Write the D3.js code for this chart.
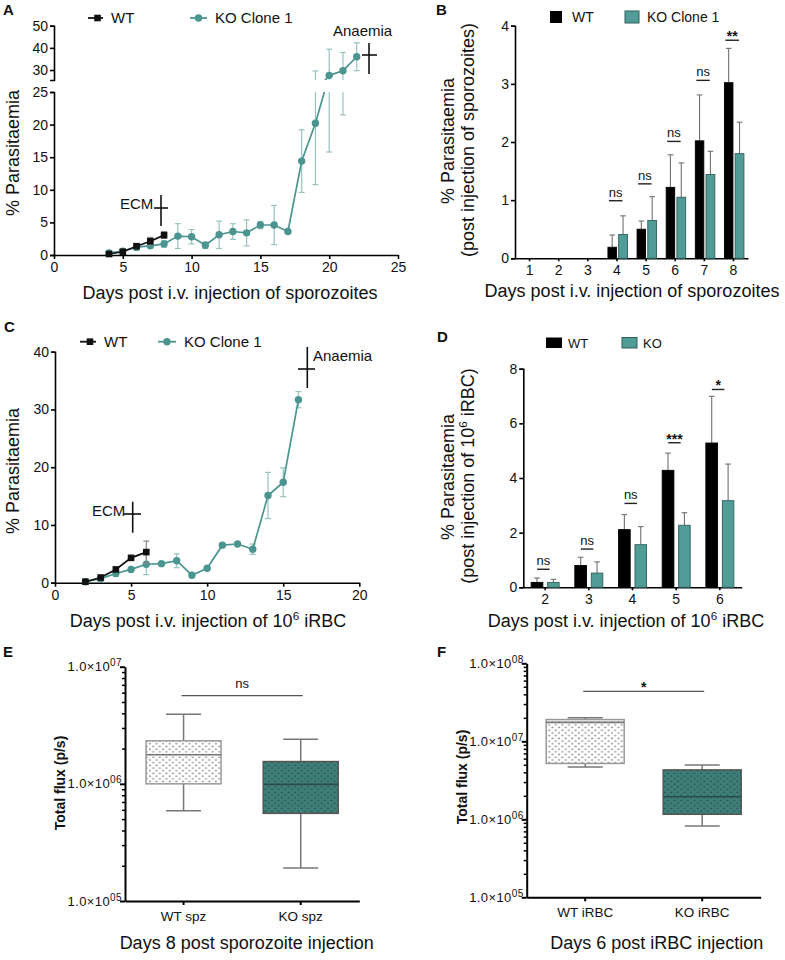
<!DOCTYPE html>
<html><head><meta charset="utf-8">
<script src="https://cdn.jsdelivr.net/npm/d3@7"></script>
<style>
body{margin:0;background:#fff}
text{font-family:"Liberation Sans",Arial,Helvetica,sans-serif;fill:#111}
</style>
</head><body>
<svg id="fig" width="785" height="960" xmlns="http://www.w3.org/2000/svg"></svg>
<script>
// ---------------- DATA ----------------
// Panel A: parasitaemia after sporozoite injection
const daysA_KO = [4,5,6,7,8,9,10,11,12,13,14,15,16,17,18,19,20,21,22];
const koA      = [0.3,0.6,1.2,1.4,1.7,2.9,2.8,1.5,3.1,3.6,3.4,4.6,4.6,3.6,14.4,20.2,27.6,29.7,36.0];
const koA_err  = [0.2,0.2,0.5,0.3,0.5,1.9,1.1,0.5,2.1,1.2,2.0,0.55,3.0,0.2,4.8,9.4,11.8,8.2,6.3];
const daysA_WT = [4,5,6,7,8];
const wtA      = [0.15,0.5,1.35,2.1,3.05];
const wtA_err  = [0.1,0.15,0.3,0.6,0.5];
const ticksA_x = [0,5,10,15,20,25];
const ticksA_yLow = [0,5,10,15,20,25];
const ticksA_yHigh = [30,40,50];

// Panel B: bar chart, sporozoites
const daysB   = ["1","2","3","4","5","6","7","8"];
const wtB     = [0,0,0,0.19,0.5,1.22,2.02,3.02];
const koB     = [0,0,0,0.41,0.65,1.05,1.44,1.80];
const wtB_err = [0,0,0,0.21,0.14,0.56,0.79,0.59];
const koB_err = [0,0,0,0.32,0.41,0.59,0.40,0.54];
const sigB    = ["","","","ns","ns","ns","ns","**"];
const sigB_y  = [0,0,0,0.99,1.28,2.01,3.06,3.75];
const ticksB_y = [0,1,2,3,4];

// Panel C: parasitaemia after iRBC injection
const daysC_KO = [2,3,4,5,6,7,8,9,10,11,12,13,14,15,16];
const koC      = [0.17,0.7,1.6,2.3,3.2,3.3,3.8,1.3,2.5,6.5,6.7,5.8,15.1,17.4,31.7];
const koC_err  = [0.1,0.2,0.5,0.2,1.8,0.2,1.2,0.2,0.3,0.2,0.2,0.9,4.0,2.5,1.4];
const daysC_WT = [2,3,4,5,6];
const wtC      = [0.17,0.9,2.3,4.3,5.3];
const wtC_err  = [0.1,0.2,0.3,0.4,1.9];
const ticksC_x = [0,5,10,15,20];
const ticksC_y = [0,10,20,30,40];

// Panel D: bar chart, iRBC
const daysD   = ["2","3","4","5","6"];
const wtD     = [0.18,0.8,2.11,4.28,5.28];
const koD     = [0.18,0.52,1.56,2.27,3.17];
const wtD_err = [0.16,0.3,0.55,0.63,1.71];
const koD_err = [0.11,0.41,0.66,0.46,1.34];
const sigD    = ["ns","ns","ns","***","*"];
const sigD_y  = [0.66,1.40,3.07,5.29,7.24];
const ticksD_y = [0,2,4,6,8];

// Panel E: total flux, day 8 post sporozoite
const groupsE = ["WT spz","KO spz"];
const minE = [5.9e5,1.91e5];
const q1E  = [1.0e6,5.6e5];
const medE = [1.77e6,0.99e6];
const q3E  = [2.33e6,1.55e6];
const maxE = [3.93e6,2.4e6];
const sigE = "ns", sigE_y = 5.66e6;
const majorE = [1e5,1e6,1e7];
const majorE_lab = ["05","06","07"];

// Panel F: total flux, day 6 post iRBC
const groupsF = ["WT iRBC","KO iRBC"];
const minF = [4.7e6,8.2e5];
const q1F  = [5.2e6,1.16e6];
const medF = [1.75e7,1.95e6];
const q3F  = [1.9e7,4.3e6];
const maxF = [2.0e7,4.97e6];
const sigF = "*", sigF_y = 4.37e7;
const majorF = [1e5,1e6,1e7,1e8];
const majorF_lab = ["05","06","07","08"];

// ---------------- STYLE ----------------
const TEAL = "#4a9590", TEAL_ERR = "#98c3bf", TEAL_BAR = "#519c96", TEAL_EDGE = "#2d605c";
const ERR_GREY = "#707070";
const TICK_FS = 14, TITLE_FS = 18, LEG_FS = 15;
const svg = d3.select("#fig");
const defs = svg.append("defs");

function styleAxis(g, fs, w) {
  g.attr("font-size", fs).attr("font-family", null);
  g.select(".domain").attr("stroke", "#000").attr("stroke-width", w || 1.6);
  g.selectAll(".tick line").attr("stroke", "#000").attr("stroke-width", w || 1.6);
  g.selectAll(".tick text").attr("fill", "#111");
}
function text(g, x, y, s, o) {
  o = o || {};
  const t = g.append("text").attr("x", x).attr("y", y).text(s)
    .attr("font-size", o.fs || 14).attr("text-anchor", o.anchor || "start");
  if (o.bold) t.attr("font-weight", "bold");
  if (o.rot) t.attr("transform", `rotate(-90,${x},${y})`);
  return t;
}
function cross(g, cx, cy, top, bot, l, r) {
  g.append("line").attr("x1", cx).attr("x2", cx).attr("y1", top).attr("y2", bot).attr("stroke", "#111").attr("stroke-width", 1.6);
  g.append("line").attr("x1", l).attr("x2", r).attr("y1", cy).attr("y2", cy).attr("stroke", "#111").attr("stroke-width", 1.6);
}
function series(g, x, y, days, vals, errs, color, errColor, marker, clip) {
  const s = g.append("g");
  if (clip) s.attr("clip-path", `url(#${clip})`);
  const d = days.map((v, i) => ({x: v, y: vals[i], e: errs[i]}));
  const eb = s.append("g").attr("stroke", errColor).attr("stroke-width", 1.2);
  d.forEach(p => {
    eb.append("line").attr("x1", x(p.x)).attr("x2", x(p.x)).attr("y1", y(p.y - p.e)).attr("y2", y(p.y + p.e));
    [p.y - p.e, p.y + p.e].forEach(v => eb.append("line").attr("x1", x(p.x) - 3).attr("x2", x(p.x) + 3).attr("y1", y(v)).attr("y2", y(v)));
  });
  s.append("path").datum(d).attr("fill", "none").attr("stroke", color).attr("stroke-width", 1.7)
    .attr("d", d3.line().x(p => x(p.x)).y(p => y(p.y)));
  if (marker === "circle") {
    s.selectAll("circle").data(d).join("circle").attr("cx", p => x(p.x)).attr("cy", p => y(p.y)).attr("r", 3.7).attr("fill", color);
  } else {
    s.selectAll("rect.m").data(d).join("rect").attr("class", "m").attr("x", p => x(p.x) - 3.3).attr("y", p => y(p.y) - 3.3)
      .attr("width", 6.6).attr("height", 6.6).attr("fill", color);
  }
}
function lineLegend(g, x1, x2, y, marker, color, label, fs) {
  g.append("line").attr("x1", x1).attr("x2", x2).attr("y1", y).attr("y2", y).attr("stroke", color).attr("stroke-width", 1.8);
  const cx = (x1 + x2) / 2 + (marker === "square" ? 2 : 0);
  if (marker === "circle") g.append("circle").attr("cx", cx).attr("cy", y).attr("r", 3.7).attr("fill", color);
  else g.append("rect").attr("x", cx - 3.3).attr("y", y - 3.3).attr("width", 6.6).attr("height", 6.6).attr("fill", color);
  text(g, x2 + 8, y + 5, label, {fs: fs});
}
function supText(g, x, y, pre, sup, post, o) {
  const t = g.append("text").attr("x", x).attr("y", y).attr("font-size", o.fs).attr("text-anchor", o.anchor || "middle");
  if (o.rot) t.attr("transform", `rotate(-90,${x},${y})`);
  t.append("tspan").text(pre);
  t.append("tspan").attr("dy", -o.fs * 0.38).attr("font-size", o.fs * 0.65).text(sup);
  t.append("tspan").attr("dy", o.fs * 0.38).text(post);
  return t;
}

// ---------------- PANEL A ----------------
(function () {
  const g = svg.append("g");
  const x = d3.scaleLinear().domain([0, 25]).range([54, 398]);
  const yLo = d3.scaleLinear().domain([0, 25]).range([255, 92]);
  const yHi = d3.scaleLinear().domain([25.5, 50]).range([80, 25.7]);
  defs.append("clipPath").attr("id", "clipALo").append("rect").attr("x", 40).attr("y", 92).attr("width", 380).attr("height", 175);
  defs.append("clipPath").attr("id", "clipAHi").append("rect").attr("x", 40).attr("y", 15).attr("width", 380).attr("height", 65);

  const ax = g.append("g").attr("transform", "translate(0,255)").call(d3.axisBottom(x).tickValues(ticksA_x).tickSize(4).tickSizeOuter(0).tickPadding(3).tickFormat(d3.format("d")));
  styleAxis(ax, TICK_FS);
  const ayl = g.append("g").attr("transform", "translate(54,0)").call(d3.axisLeft(yLo).tickValues(ticksA_yLow).tickSize(4).tickPadding(2).tickFormat(d3.format("d")));
  styleAxis(ayl, TICK_FS);
  const ayh = g.append("g").attr("transform", "translate(54,0)").call(d3.axisLeft(yHi).tickValues(ticksA_yHigh).tickSize(4).tickPadding(2).tickFormat(d3.format("d")));
  styleAxis(ayh, TICK_FS);

  [["clipALo", yLo], ["clipAHi", yHi]].forEach(([c, y]) => {
    series(g, x, y, daysA_KO, koA, koA_err, TEAL, TEAL_ERR, "circle", c);
    series(g, x, y, daysA_WT, wtA, wtA_err, "#111", "#888", "square", c);
  });

  lineLegend(g, 88, 103, 18, "square", "#111", "WT", LEG_FS);
  lineLegend(g, 190, 207, 18, "circle", TEAL, "KO Clone 1", LEG_FS);

  text(g, 333, 36, "Anaemia", {fs: LEG_FS});
  cross(g, 369, 55, 43, 74, 362, 377);
  text(g, 120, 209, "ECM", {fs: LEG_FS});
  cross(g, 161, 208, 195, 226, 154, 168);

  text(g, 230, 299, "Days post i.v. injection of sporozoites", {fs: TITLE_FS, anchor: "middle"});
  text(g, 19, 153, "% Parasitaemia", {fs: TITLE_FS, anchor: "middle", rot: true});
  text(g, 3, 15, "A", {fs: 15, bold: true});
})();

// ---------------- BAR PANELS ----------------
function barPanel(c) {
  const g = svg.append("g");
  const x = d3.scaleBand().domain(c.cats).range([c.x0, c.x1]);
  const y = d3.scaleLinear().domain([0, c.yMax]).range([c.y0, c.y1]);
  const ax = g.append("g").attr("transform", `translate(0,${c.y0})`).call(d3.axisBottom(x).tickSize(3).tickSizeOuter(0).tickPadding(4));
  styleAxis(ax, TICK_FS);
  const ay = g.append("g").attr("transform", `translate(${c.x0},0)`).call(d3.axisLeft(y).tickValues(c.yTicks).tickSize(4).tickPadding(2).tickFormat(d3.format("d")));
  styleAxis(ay, TICK_FS);
  const cen = k => x(k) + x.bandwidth() / 2;
  const data = c.cats.map((k, i) => ({k, wt: c.wt[i], ko: c.ko[i], we: c.wtErr[i], ke: c.koErr[i], s: c.sig[i], sy: c.sigY[i]}));
  const bars = g.append("g");
  data.forEach(d => {
    const cc = cen(d.k);
    [[d.wt, d.we, c.wtOff, "#000", "#000"], [d.ko, d.ke, c.koOff, TEAL_BAR, TEAL_EDGE]].forEach(([v, e, off, fill, st]) => {
      if (v <= 0) return;
      const xm = cc + (off[0] + off[1]) / 2;
      bars.append("line").attr("x1", xm).attr("x2", xm).attr("y1", y(v)).attr("y2", y(v + e)).attr("stroke", ERR_GREY).attr("stroke-width", 1.1);
      bars.append("line").attr("x1", xm - 2.8).attr("x2", xm + 2.8).attr("y1", y(v + e)).attr("y2", y(v + e)).attr("stroke", ERR_GREY).attr("stroke-width", 1.1);
      bars.append("rect").attr("x", cc + off[0]).attr("width", off[1] - off[0]).attr("y", y(v)).attr("height", y(0) - y(v))
        .attr("fill", fill).attr("stroke", st).attr("stroke-width", 0.9);
    });
    if (d.s) {
      g.append("line").attr("x1", cc + c.sigOff[0]).attr("x2", cc + c.sigOff[1]).attr("y1", y(d.sy)).attr("y2", y(d.sy)).attr("stroke", "#222").attr("stroke-width", 1.4);
      const isStar = d.s.indexOf("*") >= 0;
      text(g, cc + (c.sigOff[0] + c.sigOff[1]) / 2, y(d.sy) - (isStar ? -1 : 4), d.s, {fs: isStar ? 14 : 13, anchor: "middle", bold: isStar});
    }
  });
  return {g, x, y};
}

// Panel B
(function () {
  const p = barPanel({cats: daysB, wt: wtB, ko: koB, wtErr: wtB_err, koErr: koB_err, sig: sigB, sigY: sigB_y,
    x0: 515, x1: 748, y0: 258.3, y1: 25.7, yMax: 4, yTicks: ticksB_y, wtOff: [-9, -0.5], koOff: [1.7, 10.5], sigOff: [-8, 5.5]});
  const g = p.g;
  g.append("rect").attr("x", 550).attr("y", 11).attr("width", 12).attr("height", 12).attr("fill", "#000");
  text(g, 572, 22, "WT", {fs: 14});
  g.append("rect").attr("x", 625).attr("y", 11).attr("width", 14).attr("height", 12).attr("fill", TEAL_BAR).attr("stroke", TEAL_EDGE);
  text(g, 647, 22, "KO Clone 1", {fs: 14});
  text(g, 454, 141, "% Parasitaemia", {fs: TITLE_FS, anchor: "middle", rot: true});
  text(g, 474, 140, "(post injection of sporozoites)", {fs: TITLE_FS, anchor: "middle", rot: true});
  text(g, 632, 297, "Days post i.v. injection of sporozoites", {fs: TITLE_FS, anchor: "middle"});
  text(g, 436, 15, "B", {fs: 15, bold: true});
})();

// ---------------- PANEL C ----------------
(function () {
  const g = svg.append("g");
  const x = d3.scaleLinear().domain([0, 20]).range([55, 359.3]);
  const y = d3.scaleLinear().domain([0, 40]).range([582.7, 351.7]);
  const ax = g.append("g").attr("transform", "translate(0,582.7)").call(d3.axisBottom(x).tickValues(ticksC_x).tickSize(4).tickSizeOuter(0).tickPadding(3).tickFormat(d3.format("d")));
  styleAxis(ax, TICK_FS);
  const ay = g.append("g").attr("transform", "translate(55,0)").call(d3.axisLeft(y).tickValues(ticksC_y).tickSize(4).tickPadding(2).tickFormat(d3.format("d")));
  styleAxis(ay, TICK_FS);
  series(g, x, y, daysC_KO, koC, koC_err, TEAL, TEAL_ERR, "circle", null);
  series(g, x, y, daysC_WT, wtC, wtC_err, "#111", "#888", "square", null);
  lineLegend(g, 80, 96, 341.7, "square", "#111", "WT", LEG_FS);
  lineLegend(g, 158, 176, 341.7, "circle", TEAL, "KO Clone 1", LEG_FS);
  text(g, 313, 361, "Anaemia", {fs: LEG_FS});
  cross(g, 307.3, 369, 347, 388, 298, 315);
  text(g, 92, 516, "ECM", {fs: LEG_FS});
  cross(g, 132.7, 514, 501.7, 532.7, 124, 141);
  supText(g, 208, 627, "Days post i.v. injection of 10", "6", " iRBC", {fs: TITLE_FS});
  text(g, 19, 471, "% Parasitaemia", {fs: TITLE_FS, anchor: "middle", rot: true});
  text(g, 4, 332, "C", {fs: 15, bold: true});
})();

// Panel D
(function () {
  const p = barPanel({cats: daysD, wt: wtD, ko: koD, wtErr: wtD_err, koErr: koD_err, sig: sigD, sigY: sigD_y,
    x0: 523.3, x1: 741.7, y0: 587.3, y1: 368.7, yMax: 8, yTicks: ticksD_y, wtOff: [-14, -2.3], koOff: [2.5, 14], sigOff: [-8, 4.5]});
  const g = p.g;
  g.append("rect").attr("x", 546).attr("y", 337.5).attr("width", 16).attr("height", 10.5).attr("fill", "#000");
  text(g, 568, 347.5, "WT", {fs: 13});
  g.append("rect").attr("x", 622).attr("y", 337.5).attr("width", 15).attr("height", 10.5).attr("fill", TEAL_BAR).attr("stroke", TEAL_EDGE);
  text(g, 643, 347.5, "KO", {fs: 13});
  text(g, 454, 477, "% Parasitaemia", {fs: TITLE_FS, anchor: "middle", rot: true});
  supText(g, 474, 476, "(post injection of 10", "6", " iRBC)", {fs: TITLE_FS, rot: true});
  supText(g, 626, 627, "Days post i.v. injection of 10", "6", " iRBC", {fs: TITLE_FS});
  text(g, 437, 342, "D", {fs: 15, bold: true});
})();

// ---------------- BOX PANELS ----------------
function pattern(id, bg, dot) {
  const p = defs.append("pattern").attr("id", id).attr("patternUnits", "userSpaceOnUse").attr("width", 6.6).attr("height", 5.4);
  p.append("rect").attr("width", 6.6).attr("height", 5.4).attr("fill", bg);
  p.append("rect").attr("x", 0.4).attr("y", 0.6).attr("width", 2).attr("height", 1.3).attr("fill", dot);
  p.append("rect").attr("x", 3.7).attr("y", 3.3).attr("width", 2).attr("height", 1.3).attr("fill", dot);
}
pattern("patWT", "#ffffff", "#8a8a8a");
pattern("patKO", "#3f7f79", "#2a5551");

function boxPanel(c) {
  const g = svg.append("g");
  const x = d3.scaleBand().domain(c.groups).range([c.x0, c.x1]);
  const y = d3.scaleLog().domain(c.yDom).range([c.y0, c.y1]);
  const ax = g.append("g").attr("transform", `translate(0,${c.y0})`).call(d3.axisBottom(x).tickSize(4).tickSizeOuter(0).tickPadding(6));
  styleAxis(ax, 13.5, 2);
  // minor ticks
  const minors = [];
  c.majors.slice(0, -1).forEach(m => { for (let k = 2; k <= 9; k++) minors.push(m * k); });
  const amin = g.append("g").attr("transform", `translate(${c.x0},0)`).call(d3.axisLeft(y).tickValues(minors).tickSize(3).tickFormat(""));
  styleAxis(amin, 11, 1.5);
  amin.select(".domain").remove();
  const amaj = g.append("g").attr("transform", `translate(${c.x0},0)`).call(d3.axisLeft(y).tickValues(c.majors).tickSize(5).tickSizeOuter(0).tickFormat(""));
  styleAxis(amaj, 11, 2);
  c.majors.forEach((m, i) => {
    const t = g.append("text").attr("x", c.x0 - 3).attr("y", y(m) + 4.5).attr("text-anchor", "end").attr("font-size", 13).attr("letter-spacing", 0.4);
    t.append("tspan").text("1.0×10");
    t.append("tspan").attr("dy", -5).attr("font-size", 10).text(c.majorLab[i]);
  });
  const bw = c.boxW, cw = 35;
  c.groups.forEach((k, i) => {
    const cc = x(k) + x.bandwidth() / 2;
    const wg = g.append("g").attr("stroke", "#777").attr("stroke-width", 1.5);
    wg.append("line").attr("x1", cc).attr("x2", cc).attr("y1", y(c.max[i])).attr("y2", y(c.q3[i]));
    wg.append("line").attr("x1", cc).attr("x2", cc).attr("y1", y(c.q1[i])).attr("y2", y(c.min[i]));
    wg.append("line").attr("x1", cc - cw / 2).attr("x2", cc + cw / 2).attr("y1", y(c.max[i])).attr("y2", y(c.max[i]));
    wg.append("line").attr("x1", cc - cw / 2).attr("x2", cc + cw / 2).attr("y1", y(c.min[i])).attr("y2", y(c.min[i]));
    g.append("rect").attr("x", cc - bw / 2).attr("width", bw).attr("y", y(c.q3[i])).attr("height", y(c.q1[i]) - y(c.q3[i]))
      .attr("fill", i === 0 ? "url(#patWT)" : "url(#patKO)").attr("stroke", i === 0 ? "#999" : "#555").attr("stroke-width", 1.5);
    g.append("line").attr("x1", cc - bw / 2).attr("x2", cc + bw / 2).attr("y1", y(c.med[i])).attr("y2", y(c.med[i]))
      .attr("stroke", i === 0 ? "#777" : "#2a4c49").attr("stroke-width", 1.6);
  });
  const c0 = x(c.groups[0]) + x.bandwidth() / 2, c1 = x(c.groups[1]) + x.bandwidth() / 2;
  g.append("line").attr("x1", c0 - 2).attr("x2", c1 + 2).attr("y1", y(c.sigY)).attr("y2", y(c.sigY)).attr("stroke", "#555").attr("stroke-width", 1.2);
  const star = c.sig.indexOf("*") >= 0;
  text(g, (c0 + c1) / 2, y(c.sigY) - (star ? -1 : 8), c.sig, {fs: star ? 14 : 13, anchor: "middle", bold: star});
  text(g, c.titleX, 949, c.title, {fs: TITLE_FS, anchor: "middle"});
  text(g, c.yTitleX, c.yTitleY, "Total flux (p/s)", {fs: 14, anchor: "middle", bold: true, rot: true});
  text(g, c.labX, 657, c.lab, {fs: 15, bold: true});
  return g;
}

boxPanel({groups: groupsE, min: minE, q1: q1E, med: medE, q3: q3E, max: maxE, sig: sigE, sigY: sigE_y,
  x0: 125, x1: 359.3, y0: 901, y1: 666.7, yDom: [1e5, 1e7], majors: majorE, majorLab: majorE_lab, boxW: 75,
  title: "Days 8 post sporozoite injection", titleX: 246.7, yTitleX: 65, yTitleY: 783, lab: "E", labX: 3});
boxPanel({groups: groupsF, min: minF, q1: q1F, med: medF, q3: q3F, max: maxF, sig: sigF, sigY: sigF_y,
  x0: 526.7, x1: 760.7, y0: 897.3, y1: 663.3, yDom: [1e5, 1e8], majors: majorF, majorLab: majorF_lab, boxW: 78,
  title: "Days 6 post iRBC injection", titleX: 656.7, yTitleX: 466.5, yTitleY: 777, lab: "F", labX: 437});
</script>
</body></html>
